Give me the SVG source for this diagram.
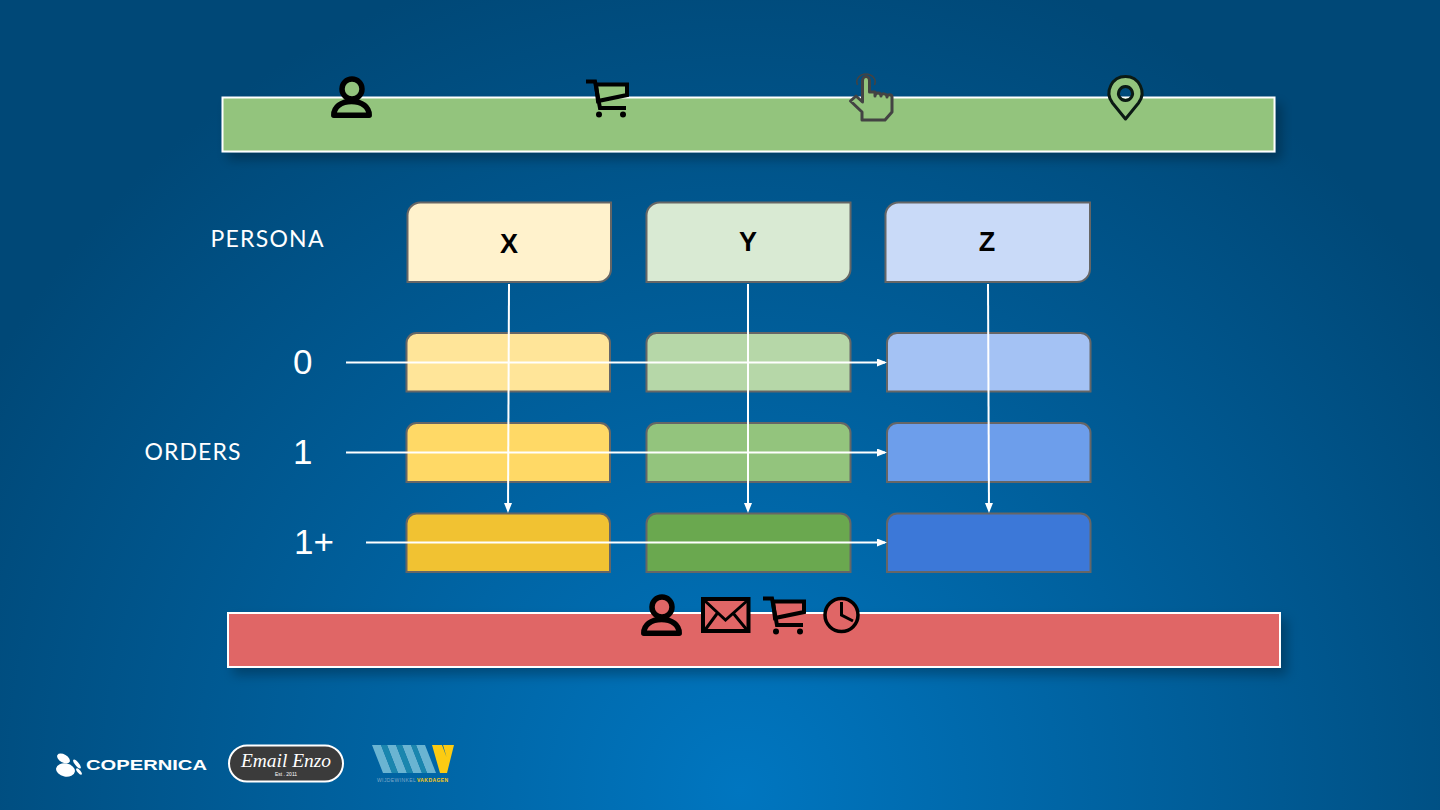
<svg xmlns="http://www.w3.org/2000/svg" width="1440" height="810" viewBox="0 0 1440 810">
<style>
text{font-family:"Liberation Sans",Arial,sans-serif}
.box{stroke:#666;stroke-width:2}
.band{stroke:#fff;stroke-width:2;filter:url(#sh)}
.lbl{font-family:Lato,"Liberation Sans",sans-serif;fill:#fff;font-size:23px}
.num{fill:#fff;font-size:35px}
.hd{fill:#000;font-size:27px;font-weight:700;text-anchor:middle}
.ln{stroke:#fff;stroke-width:2;fill:none;marker-end:url(#ah)}
.ic{stroke:#000;stroke-width:5.500;stroke-linejoin:round}
.ct{stroke:#000;stroke-width:4}
</style>
<defs>
<radialGradient id="bg" gradientUnits="userSpaceOnUse" cx="740" cy="790" r="860">
<stop offset="0" stop-color="#0076c0"/><stop offset="1" stop-color="#004877"/>
</radialGradient>
<filter id="sh" x="-5%" y="-30%" width="110%" height="170%"><feDropShadow dx="6" dy="7" stdDeviation="6" flood-color="#000" flood-opacity=".28"/></filter>
<marker id="ah" markerWidth="10" markerHeight="8" refX="8" refY="4" orient="auto" markerUnits="userSpaceOnUse"><path d="M0 0L10 4L0 8Z" fill="#fff"/></marker>
<g id="person"><path d="M2.800 38.200C2.800 30 10 24.500 20.500 24.500S38.200 30 38.200 38.200Z" class="ic"/><circle cx="21" cy="12" r="10" class="ic"/></g>
<g id="cart"><path d="M10 4.500H41V15L12 21Z" class="ct" stroke-linejoin="miter"/><path d="M0 1.500H9L14 28H40" class="ct" fill="none"/><circle cx="13" cy="34.500" r="3" fill="#000"/><circle cx="37" cy="34.500" r="3" fill="#000"/></g>
</defs>
<rect width="1440" height="810" fill="url(#bg)"/>

<g id="band-top"><rect class="band" x="222.500" y="97.500" width="1052" height="54" fill="#93c47d"/></g>
<g id="icon-person-top" transform="translate(331 77)" fill="#93c47d"><use href="#person"/></g>
<g id="icon-cart-top" transform="translate(586 80)" fill="#93c47d"><use href="#cart"/></g>
<g id="icon-hand"><path d="M862 112V120H885L892 112V97C892 94 887 94 887 97C887 93 881 93 881 96C881 92 875 92 875 96V92L869.500 92V81C869.500 75 862.500 75 862.500 81V102L856 96L850.500 101Z" fill="#93c47d" stroke="#434343" stroke-width="3" stroke-linejoin="round"/><path d="M857.500 85C855 79 860 74 866 74C872 74 877 79 874.500 85" fill="none" stroke="#434343" stroke-width="1.500"/></g>
<g id="icon-pin"><path fill-rule="evenodd" d="M1125.500 119L1112.500 103C1104 92 1112 76.500 1125.500 76.500C1139 76.500 1147 92 1138.500 103ZM1125.500 86.500a7 7 0 1 0 .01 0Z" fill="#93c47d" stroke="#0b1a14" stroke-width="3" stroke-linejoin="round"/></g>

<g id="label-persona"><text class="lbl" x="210.500" y="247" textLength="113">PERSONA</text></g>
<g id="label-orders"><text class="lbl" x="144.500" y="460" textLength="96">ORDERS</text></g>
<g id="label-0"><text class="num" x="293" y="373.500">0</text></g>
<g id="label-1"><text class="num" x="293" y="463.500">1</text></g>
<g id="label-1plus"><text class="num" x="294" y="553.500">1+</text></g>

<g id="node-x"><path class="box" d="M421 202.500H611V269A13 13 0 0 1 598 282H407.500V216A13 13 0 0 1 421 202.500Z" fill="#fff2cc"/><text class="hd" x="509" y="253">X</text></g>
<g id="node-y"><path class="box" d="M660 202.500H850.500V269A13 13 0 0 1 837 282H646.500V216A13 13 0 0 1 660 202.500Z" fill="#d9ead3"/><text class="hd" x="748" y="251">Y</text></g>
<g id="node-z"><path class="box" d="M899 202.500H1090V269A13 13 0 0 1 1077 282H885.500V216A13 13 0 0 1 899 202.500Z" fill="#c9daf8"/><text class="hd" x="987" y="251">Z</text></g>

<g id="node-x0"><path class="box" d="M406.500 391.500V343a10 10 0 0 1 10-10H600a10 10 0 0 1 10 10V391.500Z" fill="#ffe599"/></g>
<g id="node-y0"><path class="box" d="M646.500 391.500V343a10 10 0 0 1 10-10H840.500a10 10 0 0 1 10 10V391.500Z" fill="#b6d7a8"/></g>
<g id="node-z0"><path class="box" d="M887 391.500V343a10 10 0 0 1 10-10H1080.500a10 10 0 0 1 10 10V391.500Z" fill="#a4c2f4"/></g>
<g id="node-x1"><path class="box" d="M406.500 482V433a10 10 0 0 1 10-10H600a10 10 0 0 1 10 10V482Z" fill="#ffd966"/></g>
<g id="node-y1"><path class="box" d="M646.500 482V433a10 10 0 0 1 10-10H840.500a10 10 0 0 1 10 10V482Z" fill="#93c47d"/></g>
<g id="node-z1"><path class="box" d="M887 482V433a10 10 0 0 1 10-10H1080.500a10 10 0 0 1 10 10V482Z" fill="#6d9eeb"/></g>
<g id="node-x2"><path class="box" d="M406.500 572V523.500a10 10 0 0 1 10-10H600a10 10 0 0 1 10 10V572Z" fill="#f1c232"/></g>
<g id="node-y2"><path class="box" d="M646.500 572V523.500a10 10 0 0 1 10-10H840.500a10 10 0 0 1 10 10V572Z" fill="#6aa84f"/></g>
<g id="node-z2"><path class="box" d="M887 572V523.500a10 10 0 0 1 10-10H1080.500a10 10 0 0 1 10 10V572Z" fill="#3c78d8"/></g>

<g id="connectors">
<path class="ln" d="M346 362.500H885"/>
<path class="ln" d="M346 452.500H885"/>
<path class="ln" d="M366 542.500H885"/>
<path class="ln" d="M509 284L508 511"/>
<path class="ln" d="M748 284V511"/>
<path class="ln" d="M988 284L989 511"/>
</g>

<g id="band-bottom"><rect class="band" x="228" y="613" width="1052" height="54" fill="#e06666"/></g>
<g id="icon-person-bottom" transform="translate(641 595)" fill="#e06666"><use href="#person"/></g>
<g id="icon-mail"><rect x="703" y="599" width="45.500" height="32" fill="#e06666" stroke="#000" stroke-width="4"/><path d="M704 600L725.500 620L748 600M705 630L717.500 613M747 630L733 613" fill="none" stroke="#000" stroke-width="3"/></g>
<g id="icon-cart-bottom" transform="translate(763 597)" fill="#e06666"><use href="#cart"/></g>
<g id="icon-clock"><circle cx="841.500" cy="615" r="16.500" fill="#e06666" stroke="#000" stroke-width="3.500"/><path d="M841.500 602V615L853 621" fill="none" stroke="#000" stroke-width="3"/></g>

<g id="logo-copernica">
<ellipse cx="63.500" cy="758.500" rx="7" ry="4" fill="#fff" transform="rotate(30 63.500 758.500)"/><ellipse cx="65.500" cy="770" rx="9.500" ry="6.500" fill="#fff" transform="rotate(10 65.500 770)"/><ellipse cx="77" cy="764" rx="1.800" ry="5.500" fill="#fff" transform="rotate(-40 77 764)"/><ellipse cx="79" cy="771.500" rx="1.500" ry="4" fill="#fff" transform="rotate(-40 79 771.500)"/>
<text x="86" y="770" font-size="15.500" font-weight="700" fill="#fff" textLength="121" lengthAdjust="spacingAndGlyphs">COPERNICA</text>
</g>
<g id="logo-enzo">
<rect x="229" y="745.500" width="114" height="36" rx="18" fill="#3b3b3b" stroke="#fff" stroke-width="2"/>
<text x="241" y="767" font-style="italic" font-size="19" fill="#fff" textLength="90" lengthAdjust="spacingAndGlyphs" style="font-family:'Liberation Serif',serif">Email Enzo</text>
<text x="286" y="776" font-size="5" fill="#fff" text-anchor="middle">Est . 2011</text>
</g>
<g id="logo-vakdagen">
<path d="M372 745H381L392 773H383ZM387 745H396L407 773H398ZM402 745H411L422 773H413ZM416 745H425L436 773H427Z" fill="#6ab4d2"/>
<path d="M381 745H387L398 773H392ZM396 745H402L413 773H407ZM411 745H416L427 773H422Z" fill="#1a86ae"/>
<path d="M432 745H442L446.500 757L443 745H454L447 773H440Z" fill="#fccb12"/>
<text x="377" y="782" font-size="5" fill="#7fa8c8" letter-spacing=".4">WIJDEWINKEL</text>
<text x="417" y="782" font-size="5" font-weight="700" fill="#fccb12" letter-spacing=".4">VAKDAGEN</text>
</g>
</svg>
